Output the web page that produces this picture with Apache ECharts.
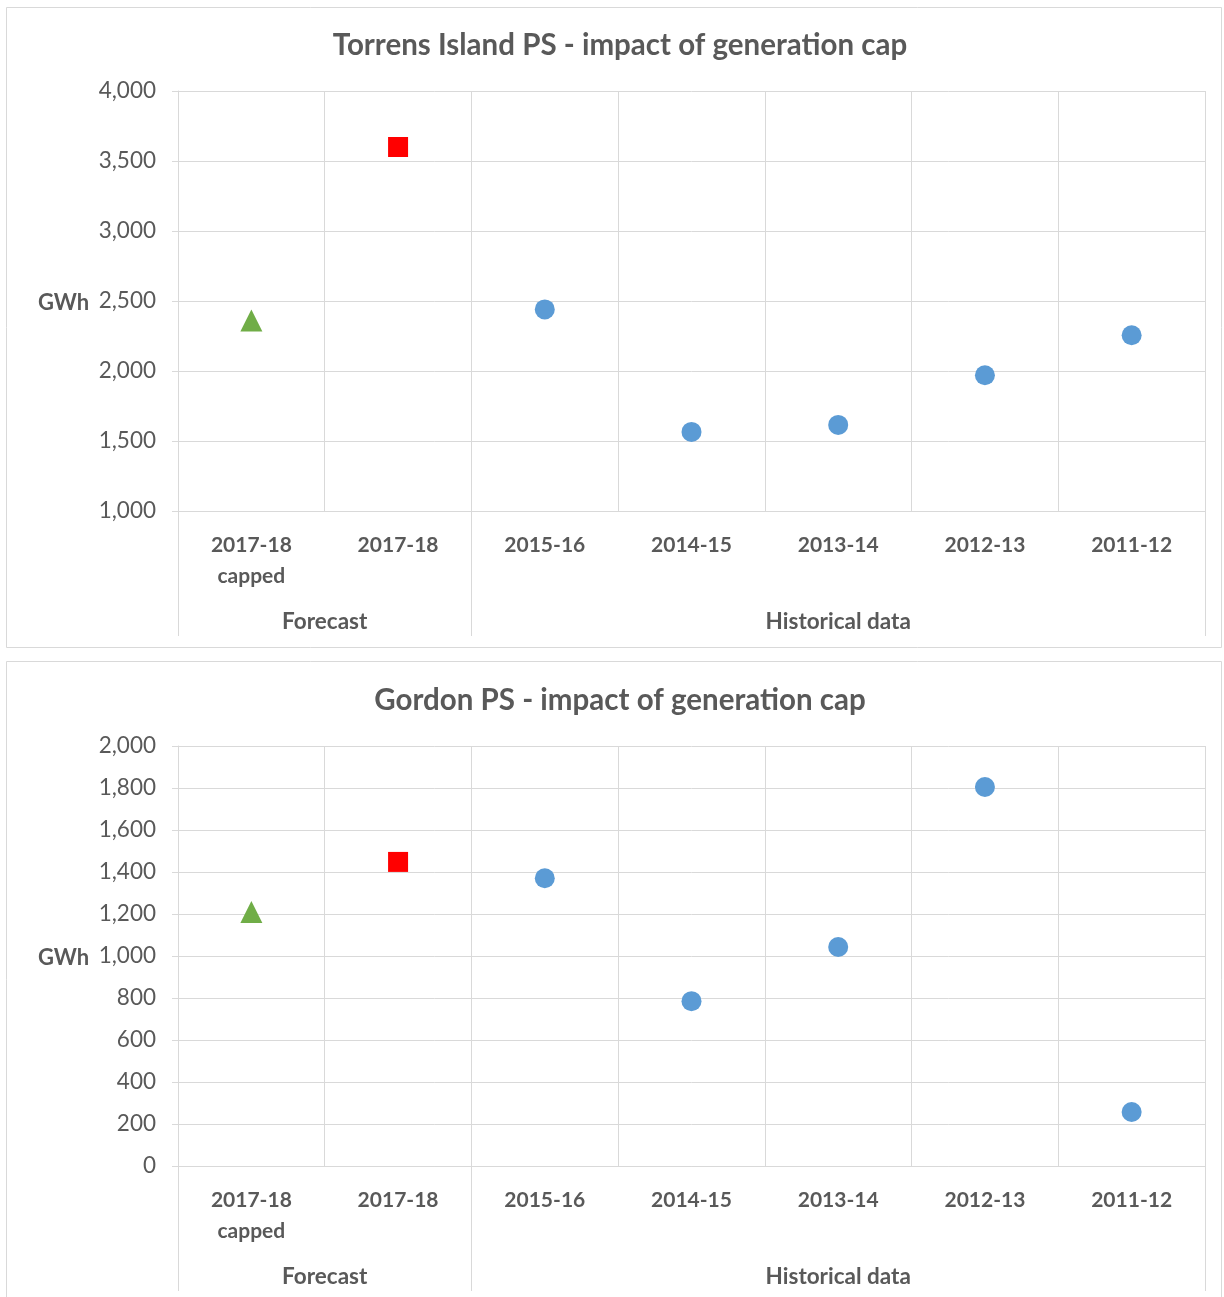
<!DOCTYPE html>
<html>
<head>
<meta charset="utf-8">
<script src="https://cdn.jsdelivr.net/npm/echarts@6/dist/echarts.min.js"></script>
<style>
html,body{margin:0;padding:0;background:#fff;}
#c{width:1224px;height:1297px;}
</style>
</head>
<body>
<div id="c"></div>
<script>
// ---- data ----
const categories = ['2017-18\ncapped', '2017-18', '2015-16', '2014-15', '2013-14', '2012-13', '2011-12'];
const groupNames = ['Forecast', 'Historical data'];
const groupSizes = [2, 5];

const titles = ['Torrens Island PS - impact of generation cap', 'Gordon PS - impact of generation cap'];
const unitLabel = 'GWh';

const torrensCapped = [2360, null, null, null, null, null, null];
const torrensForecast = [null, 3600, null, null, null, null, null];
const torrensHistorical = [null, null, 2440, 1565, 1615, 1970, 2255];

const gordonCapped = [1210, null, null, null, null, null, null];
const gordonForecast = [null, 1448, null, null, null, null, null];
const gordonHistorical = [null, null, 1370, 785, 1043, 1805, 257];

const torrensAxis = { min: 1000, max: 4000, interval: 500 };
const gordonAxis = { min: 0, max: 2000, interval: 200 };

// ---- derived group positions ----
const groupTicks = [0];
const groupCenters = [];
groupSizes.forEach(s => {
  const start = groupTicks[groupTicks.length - 1];
  groupCenters.push(start + s / 2);
  groupTicks.push(start + s);
});

const FONT = 'Lato, "Open Sans", sans-serif';
const TXT = '#595959';
const GRID = '#d9d9d9';

const chart = echarts.init(document.getElementById('c'), null, { renderer: 'canvas' });

const grids = [
  { left: 178, top: 91, width: 1027, height: 420 },
  { left: 178, top: 746, width: 1027, height: 420 }
];

function catAxis(i) {
  return {
    type: 'category', gridIndex: i, data: categories, boundaryGap: true,
    axisLine: { show: true, lineStyle: { color: GRID, width: 1 } },
    axisTick: { show: false },
    splitLine: { show: true, lineStyle: { color: GRID, width: 1 } },
    axisLabel: { color: TXT, fontFamily: FONT, fontWeight: 'bold', fontSize: 21, margin: 19, lineHeight: 31, interval: 0 }
  };
}
function groupAxis(i) {
  return {
    type: 'value', gridIndex: i, min: 0, max: categories.length, position: 'bottom',
    axisLine: { show: false },
    splitLine: { show: false },
    axisTick: { show: true, customValues: groupTicks, length: 125, lineStyle: { color: GRID, width: 1 } },
    axisLabel: {
      show: true, customValues: groupCenters, margin: 99,
      color: TXT, fontFamily: FONT, fontWeight: 'bold', fontSize: 22.5,
      formatter: v => { const k = groupCenters.indexOf(v); return k >= 0 ? groupNames[k] : ''; }
    }
  };
}
function valAxis(i, cfg) {
  return {
    type: 'value', gridIndex: i, min: cfg.min, max: cfg.max, interval: cfg.interval,
    axisLine: { show: true, lineStyle: { color: GRID, width: 1 } },
    axisTick: { show: true, length: 6, lineStyle: { color: GRID } },
    splitLine: { show: true, lineStyle: { color: GRID, width: 1 } },
    axisLabel: { color: TXT, fontFamily: FONT, fontSize: 22.5, margin: 22,
      formatter: v => v.toLocaleString('en-US') }
  };
}
function seriesFor(i, capped, forecast, hist) {
  return [
    { type: 'scatter', name: 'capped', xAxisIndex: i * 2, yAxisIndex: i, data: capped,
      symbol: 'triangle', symbolSize: 22, itemStyle: { color: '#70ad47', opacity: 1 } },
    { type: 'scatter', name: 'forecast', xAxisIndex: i * 2, yAxisIndex: i, data: forecast,
      symbol: 'rect', symbolSize: 20, itemStyle: { color: '#ff0000', opacity: 1 } },
    { type: 'scatter', name: 'historical', xAxisIndex: i * 2, yAxisIndex: i, data: hist,
      symbol: 'circle', symbolSize: 20, itemStyle: { color: '#5b9bd5', opacity: 1 } }
  ];
}

const option = {
  animation: false,
  backgroundColor: '#fff',
  title: [
    { text: titles[0], left: 615, top: 25, textAlign: 'center',
      textStyle: { color: TXT, fontFamily: FONT, fontWeight: 'bold', fontSize: 29.5 } },
    { text: titles[1], left: 615, top: 680, textAlign: 'center',
      textStyle: { color: TXT, fontFamily: FONT, fontWeight: 'bold', fontSize: 29.5 } },
    { text: unitLabel, left: 33, top: 287,
      textStyle: { color: TXT, fontFamily: FONT, fontWeight: 'bold', fontSize: 22 } },
    { text: unitLabel, left: 33, top: 942,
      textStyle: { color: TXT, fontFamily: FONT, fontWeight: 'bold', fontSize: 22 } }
  ],
  graphic: [
    { type: 'rect', shape: { x: 6.5, y: 7.5, width: 1215, height: 640 }, style: { fill: 'none', stroke: GRID, lineWidth: 1 }, silent: true },
    { type: 'rect', shape: { x: 6.5, y: 661.5, width: 1215, height: 640 }, style: { fill: 'none', stroke: GRID, lineWidth: 1 }, silent: true }
  ],
  grid: grids,
  xAxis: [catAxis(0), groupAxis(0), catAxis(1), groupAxis(1)],
  yAxis: [valAxis(0, torrensAxis), valAxis(1, gordonAxis)],
  series: [
    ...seriesFor(0, torrensCapped, torrensForecast, torrensHistorical),
    ...seriesFor(1, gordonCapped, gordonForecast, gordonHistorical)
  ]
};
chart.setOption(option);
</script>
</body>
</html>
